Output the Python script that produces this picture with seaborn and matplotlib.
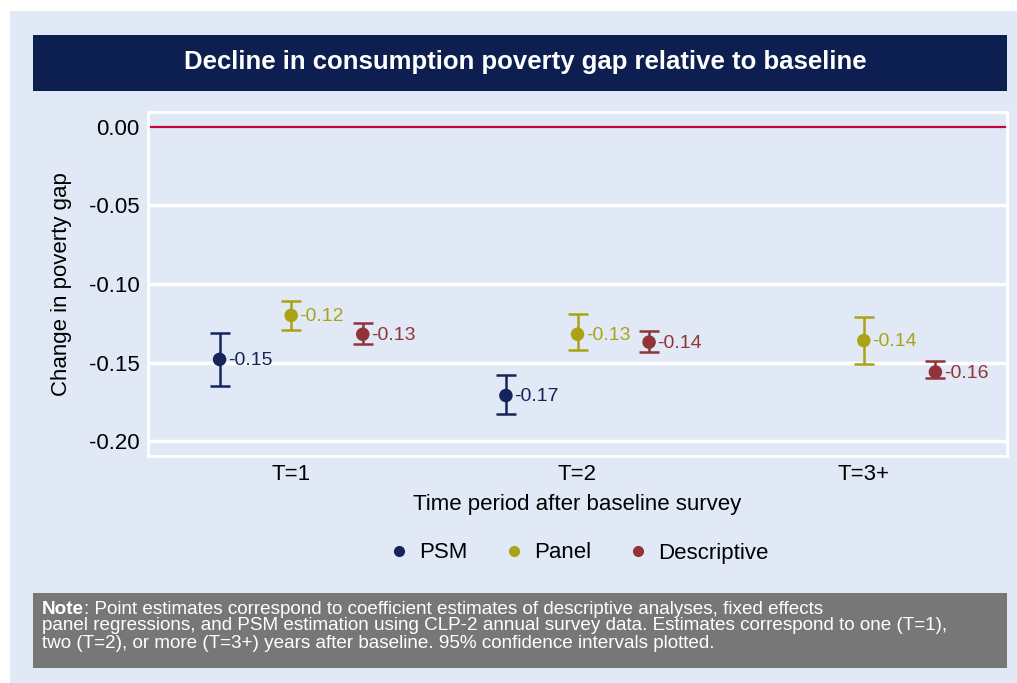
import numpy as np
import pandas as pd
import matplotlib
matplotlib.use("Agg")
import matplotlib.pyplot as plt
from matplotlib.patches import Rectangle
from matplotlib.lines import Line2D
import seaborn as sns

# data
periods = ["T=1", "T=2", "T=3+"]
series = ["PSM", "Panel", "Descriptive"]

psm_est = [-0.148, -0.171, np.nan]
psm_lo = [-0.165, -0.183, np.nan]
psm_hi = [-0.131, -0.158, np.nan]

panel_est = [-0.120, -0.132, -0.136]
panel_lo = [-0.129, -0.142, -0.151]
panel_hi = [-0.111, -0.119, -0.121]

desc_est = [-0.132, -0.137, -0.156]
desc_lo = [-0.138, -0.143, -0.160]
desc_hi = [-0.125, -0.130, -0.149]

colors = {"PSM": "#15245A", "Panel": "#ABA316", "Descriptive": "#913439"}
offsets = {"PSM": -0.25, "Panel": 0.0, "Descriptive": 0.25}

rows = []
for name, est, lo, hi in [("PSM", psm_est, psm_lo, psm_hi),
                          ("Panel", panel_est, panel_lo, panel_hi),
                          ("Descriptive", desc_est, desc_lo, desc_hi)]:
    for i, p in enumerate(periods):
        if np.isnan(est[i]):
            continue
        rows.append({"series": name, "period": p, "x": i + 1 + offsets[name],
                     "est": est[i], "lo": lo[i], "hi": hi[i]})
df = pd.DataFrame(rows)

sns.set_theme(style="white")
plt.rcParams["font.family"] = ["Liberation Sans", "DejaVu Sans"]
plt.rcParams["text.color"] = "black"
plt.rcParams["axes.labelcolor"] = "black"

BG = "#E2E9F6"
W, H = 1017, 683
fig = plt.figure(figsize=(W / 100, H / 100), dpi=100, facecolor="white")


def box(x0, y0, x1, y1, color, z=0):
    fig.add_artist(Rectangle((x0 / W, 1 - y1 / H), (x1 - x0) / W, (y1 - y0) / H,
                             transform=fig.transFigure, facecolor=color,
                             edgecolor="none", zorder=z))


box(10, 11, W, H, BG)
box(33, 35, 1007, 91, "#0C1F50", 1)
box(33, 593, 1007, 668, "#777777", 1)

fig.text(525 / W, 1 - 62 / H, "Decline in consumption poverty gap relative to baseline",
         ha="center", va="center", color="white", fontsize=18.5, fontweight="bold")

ax = fig.add_axes([148 / W, 1 - 456 / H, (1007 - 148) / W, (456 - 112) / H])
ax.set_facecolor(BG)
for s in ax.spines.values():
    s.set_color("white")
    s.set_linewidth(2)

ax.set_xlim(0.5, 3.5)
ax.set_ylim(-0.2095, 0.0095)
ax.set_yticks([0.0, -0.05, -0.10, -0.15, -0.20])
ax.set_yticklabels(["0.00", "-0.05", "-0.10", "-0.15", "-0.20"])
ax.set_xticks([1, 2, 3])
ax.set_xticklabels(periods)
ax.tick_params(axis="both", labelsize=16, length=0, pad=6, colors="black")
for y in [-0.05, -0.10, -0.15, -0.20]:
    ax.axhline(y, color="white", lw=2.5, zorder=1)
ax.axhline(0, color="#C4043A", lw=1.6, zorder=2)

for name in series:
    d = df[df.series == name]
    ax.errorbar(d.x, d.est, yerr=[d.est - d.lo, d.hi - d.est], fmt="none",
                ecolor=colors[name], elinewidth=1.8, capsize=7, capthick=1.8, zorder=3)

sns.scatterplot(data=df, x="x", y="est", hue="series", palette=colors,
                s=95, edgecolor="none", legend=False, ax=ax, zorder=4)

for _, r in df.iterrows():
    ax.annotate(f"{r.est:.2f}", (r.x, r.est), xytext=(6, -1), textcoords="offset points",
                ha="left", va="center", fontsize=14, color=colors[r.series], zorder=5)

ax.set_xlabel("Time period after baseline survey", fontsize=16, labelpad=6)
ax.set_ylabel("Change in poverty gap", fontsize=16, labelpad=12)

handles = [Line2D([], [], marker="o", ls="none", color=colors[n], markersize=7) for n in series]
fig.legend(handles, series, loc="center", bbox_to_anchor=(578 / W, 1 - 553 / H),
           ncol=3, frameon=False, fontsize=16, handletextpad=0.4, columnspacing=1.6,
           handlelength=1.0)

# note box: bold "Note" then the rest of the first line right after it
note_lines = [": Point estimates correspond to coefficient estimates of descriptive analyses, fixed effects",
              "panel regressions, and PSM estimation using CLP-2 annual survey data. Estimates correspond to one (T=1),",
              "two (T=2), or more (T=3+) years after baseline. 95% confidence intervals plotted."]
nfs = 13.6
t = fig.text(42 / W, 1 - 609 / H, "Note", ha="left", va="center", color="white",
             fontsize=nfs, fontweight="bold")
fig.canvas.draw()
bb = t.get_window_extent(fig.canvas.get_renderer())
fig.text(bb.x1 / W, 1 - 609 / H, note_lines[0], ha="left", va="center", color="white", fontsize=nfs)
fig.text(42 / W, 1 - 626 / H, note_lines[1], ha="left", va="center", color="white", fontsize=nfs)
fig.text(42 / W, 1 - 643 / H, note_lines[2], ha="left", va="center", color="white", fontsize=nfs)

fig.savefig("out.png", dpi=100, facecolor=fig.get_facecolor())
